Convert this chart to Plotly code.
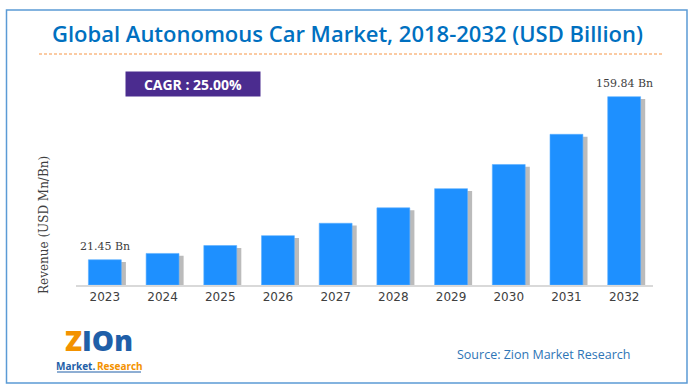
import plotly.graph_objects as go

years = ["2023", "2024", "2025", "2026", "2027", "2028", "2029", "2030", "2031", "2032"]
revenue = [21.45, 26.8, 33.5, 41.9, 52.4, 65.5, 81.8, 102.3, 127.9, 159.84]
label_texts = {"2023": "21.45 Bn", "2032": "159.84 Bn"}
title_text = "Global Autonomous Car Market, 2018-2032 (USD Billion)"
cagr_text = "CAGR : 25.00%"
y_title = "Revenue (USD Mn/Bn)"
source_text = "Source: Zion Market Research"

W, H = 694, 392
L, R, T, B = 76, 41, 80, 107
PW, PH = W - L - R, H - T - B


def px(x):
    return (x - L) / PW


def py(y):
    return (H - B - y) / PH


bar_w = 0.57
shadow_shift = 0.08

fig = go.Figure()
fig.add_trace(go.Bar(
    x=years, y=[v - 2.0 for v in revenue], width=bar_w, offset=-bar_w / 2 + shadow_shift,
    marker=dict(color="rgba(60,60,60,0.35)", line=dict(width=0)),
    hoverinfo="skip", showlegend=False,
))
fig.add_trace(go.Bar(
    x=years, y=revenue, width=bar_w, offset=-bar_w / 2,
    marker=dict(color="#1E90FF", line=dict(color="#5AAEFF", width=0.6)),
    showlegend=False,
))

for yr, txt in label_texts.items():
    i = years.index(yr)
    fig.add_annotation(x=i, y=revenue[i], xref="x", yref="y", text=txt, showarrow=False,
                       xanchor="center", yanchor="bottom", yshift=5,
                       font=dict(family="DejaVu Serif", size=11, color="#404040"))

fig.update_layout(
    width=W, height=H, barmode="overlay",
    margin=dict(l=L, r=R, t=T, b=B),
    paper_bgcolor="white", plot_bgcolor="white",
    xaxis=dict(type="category", showgrid=False, showline=True, linecolor="#D9D9D9", linewidth=1.5,
               ticks="", tickfont=dict(family="DejaVu Sans", size=12, color="#404040"),
               range=[-0.5, 9.5]),
    yaxis=dict(range=[0, 174], showgrid=False, showticklabels=False, zeroline=False,
               showline=False, title=None),
    shapes=[
        dict(type="rect", xref="paper", yref="paper", x0=px(6.5), x1=px(687), y0=py(10), y1=py(383),
             line=dict(color="#5B9BD5", width=1.5), fillcolor="rgba(0,0,0,0)", layer="below"),
        dict(type="line", xref="paper", yref="paper", x0=px(39), x1=px(662), y0=py(54), y1=py(54),
             line=dict(color="#F79646", width=1, dash="3px,2px")),
        dict(type="line", xref="paper", yref="paper", x0=px(57), x1=px(141), y0=py(372), y1=py(372),
             line=dict(color="#1F5FA8", width=1)),
    ],
)


def note(x, y, text, font, xanchor="center", **kw):
    fig.add_annotation(xref="paper", yref="paper", x=px(x), y=py(y), text=text, showarrow=False,
                       xanchor=xanchor, yanchor="middle", font=font, **kw)


note(347, 33, title_text, dict(family="Open Sans", size=22, color="#0070C0", weight=600))
note(193, 84, cagr_text, dict(family="Open Sans", size=14, color="white", weight=700),
     bgcolor="#4B2C8F", width=130, height=20, borderpad=2)
note(44, 225, y_title, dict(family="DejaVu Serif", size=12, color="#404040"), textangle=-90)
note(543, 354, source_text, dict(family="Open Sans", size=12.5, color="#2E75B6"))
note(99, 340, "<span style='color:#F39200'>Z</span>IOn",
     dict(family="Open Sans", size=28, color="#1F5FA8", weight=800), borderpad=0)
note(96, 366, "Market.", dict(family="Open Sans", size=10, color="#1F5FA8", weight=700),
     xanchor="right", borderpad=0)
note(96, 366, "Research", dict(family="Open Sans", size=10, color="#F39200", weight=700),
     xanchor="left", borderpad=0)

fig.write_html("out.html", post_script="document.body.style.margin='0';",
               config={"displayModeBar": False})
